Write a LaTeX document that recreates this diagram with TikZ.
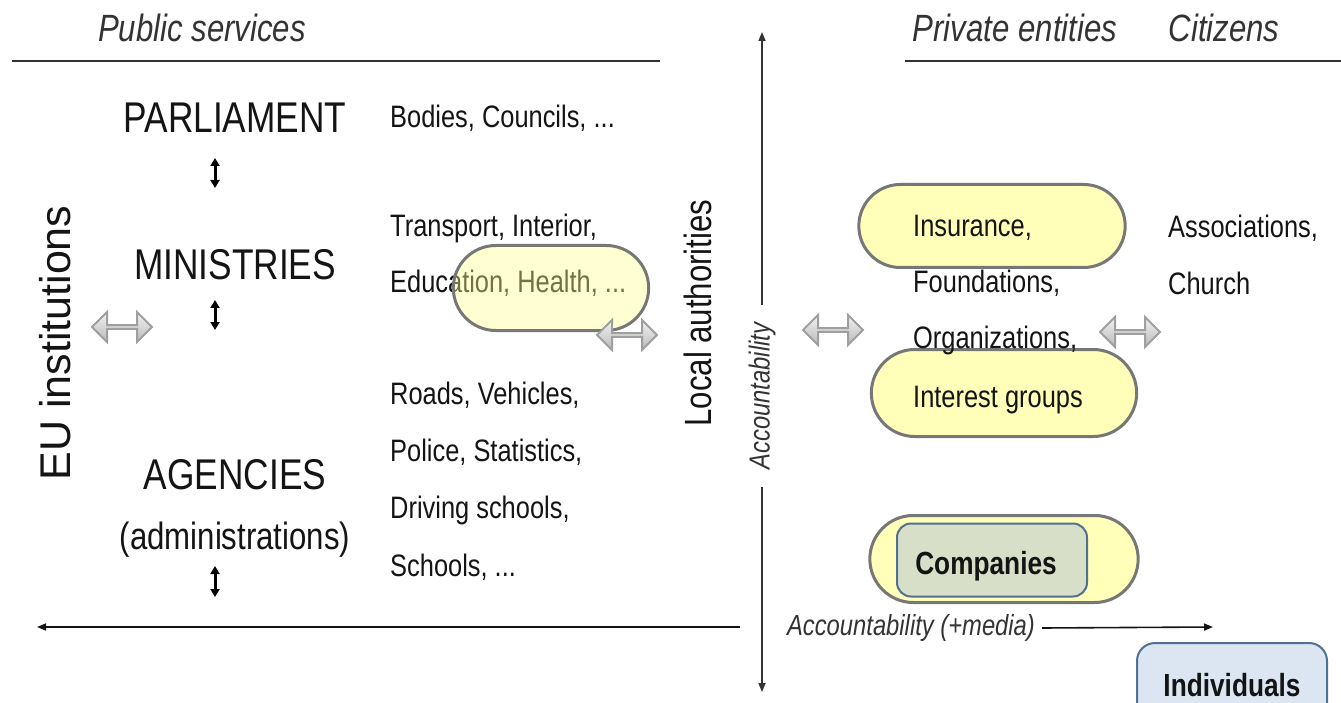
\documentclass[tikz,border=0pt]{standalone}
\usepackage{fontspec}
\setmainfont{Liberation Sans}
\newfontfamily\narrowfont[FakeStretch=0.82]{Liberation Sans}
\usetikzlibrary{shapes.misc,shapes.arrows,arrows.meta,calc}
\definecolor{ink}{HTML}{141414}
\definecolor{head}{HTML}{333333}
\definecolor{pillfill}{HTML}{FFFF8C}
\definecolor{pillline}{HTML}{777777}
\definecolor{boxfill}{HTML}{DCE6F2}
\definecolor{boxline}{HTML}{52708F}
\definecolor{corefill}{HTML}{D7DFC9}
\tikzset{
  hdr/.style={font=\narrowfont\itshape\fontsize{38}{38}\selectfont, text=head, inner sep=0pt},
  big/.style={font=\narrowfont\fontsize{43}{43}\selectfont, text=ink, inner sep=0pt},
  mid/.style={font=\narrowfont\fontsize{38}{38}\selectfont, text=ink, inner sep=0pt},
  eu/.style={font=\fontsize{43}{43}\selectfont, text=ink, inner sep=0pt},
  item/.style={font=\narrowfont\fontsize{31}{31}\selectfont, text=ink, anchor=west, inner sep=0pt},
  acc/.style={font=\narrowfont\itshape\fontsize{29}{29}\selectfont, text=head, inner sep=0pt},
  rule/.style={draw=head, line width=2pt},
  axis/.style={draw=ink, line width=1.6pt, -{Triangle[length=9pt,width=7pt]}},
  updown/.style={draw=black, line width=3pt, {Triangle[length=8pt,width=9pt]}-{Triangle[length=8pt,width=9pt]}},
  pill/.style={rounded rectangle, draw=pillline, line width=3pt, fill=pillfill, fill opacity=0.6},
  dbl/.style={double arrow, double arrow head extend=7pt, minimum height=60pt, minimum width=30pt,
    inner sep=0pt, draw=gray!75, line width=2pt, top color=gray!10, bottom color=gray!55},
  bold/.style={font=\narrowfont\bfseries\fontsize{32}{32}\selectfont, text=ink, inner sep=0pt},
}
\begin{document}
\begin{tikzpicture}[x=1pt,y=-1pt]
  \useasboundingbox (0,0) rectangle (1341,703);

  % headings and rules
  \node[hdr] (pub) at (202,28) {Public services};
  \node[hdr] (priv) at (1015,28) {Private entities};
  \node[hdr] (cit) at (1224,28) {Citizens};
  \coordinate (ruleA) at (12,61);
  \coordinate (ruleB) at (660,61);
  \coordinate (ruleC) at (905,61);
  \coordinate (ruleD) at (1341,61);
  \draw[rule] (ruleA) -- (ruleB);
  \draw[rule] (ruleC) -- (ruleD);

  % public hierarchy
  \node[big] (parl) at (235,118) {PARLIAMENT};
  \node[big] (min) at (235,265) {MINISTRIES};
  \node[big] (agen) at (235,475) {AGENCIES};
  \node[mid] (adm) at (235,540) {(administrations)};
  \coordinate (u1a) at (215,158);
  \coordinate (u1b) at (215,188);
  \coordinate (u2a) at (215,300);
  \coordinate (u2b) at (215,330);
  \coordinate (u3a) at (215,566);
  \coordinate (u3b) at (215,597);
  \draw[updown] (u1a) -- (u1b);
  \draw[updown] (u2a) -- (u2b);
  \draw[updown] (u3a) -- (u3b);

  % examples
  \node[item] (bod) at (390,118) {Bodies, Councils, ...};
  \node[item] (tra) at (390,228) {Transport, Interior,};
  \node[item] (edu) at (390,283) {Education, Health, ...};
  \node[item] (roa) at (390,395) {Roads, Vehicles,};
  \node[item] (pol) at (390,452) {Police, Statistics,};
  \node[item] (dri) at (390,510) {Driving schools,};
  \node[item] (sch) at (390,567) {Schools, ...};
  \node[pill, fill opacity=0.4, minimum width=202pt, minimum height=85pt] (pmin) at (551,288) {};

  \node[eu, rotate=90] (euin) at (55,343) {EU institutions};
  \node[mid, rotate=90] (loc) at (698,313) {Local authorities};

  % private side
  \node[pill, minimum width=273pt, minimum height=83pt] (pins) at (992,226) {};
  \node[pill, minimum width=272pt, minimum height=87pt] (pint) at (1004,393) {};
  \node[pill, minimum width=275pt, minimum height=87pt] (pcom) at (1004,559) {};
  \node[item] (ins) at (913,228) {Insurance,};
  \node[item] (fou) at (913,283) {Foundations,};
  \node[item] (org) at (913,340) {Organizations,};
  \node[item] (int) at (913,400) {Interest groups};
  \node[item] (ass) at (1168,228) {Associations,};
  \node[item] (chu) at (1168,283) {Church};

  \node[draw=boxline, line width=2pt, fill=corefill, rounded corners=14pt,
    minimum width=190pt, minimum height=73pt, inner sep=0pt] (core) at (992,560) {};
  \node[bold] (com) at (986,566) {Companies};

  \node[draw=boxline, line width=2pt, fill=boxfill, rounded corners=18pt,
    minimum width=190pt, minimum height=90pt, inner sep=0pt] (indbox) at (1232,688) {};
  \node[bold] (ind) at (1232,685) {Individuals};

  % exchange arrows
  \node[dbl] (ex1) at (122,327) {};
  \node[dbl] (ex2) at (627,335) {};
  \node[dbl] (ex3) at (833,330) {};
  \node[dbl] (ex4) at (1130,332) {};

  % accountability axes
  \node[acc, rotate=90, inner xsep=17pt] (vacc) at (762,396) {Accountability};
  \coordinate (vtop) at (762,32);
  \coordinate (vbot) at (762,692);
  \draw[axis, draw=head] (vacc.east) -- (vtop);
  \draw[axis, draw=head] (vacc.west) -- (vbot);
  \node[acc, inner xsep=7pt] (hacc) at (911,628) {Accountability (+media)};
  \coordinate (hgap) at (740,627);
  \coordinate (hleft) at (37,627);
  \coordinate (hright) at (1213,627);
  \draw[axis] (hgap) -- (hleft);
  \draw[axis] (hacc.east) -- (hright);
\end{tikzpicture}
\end{document}
